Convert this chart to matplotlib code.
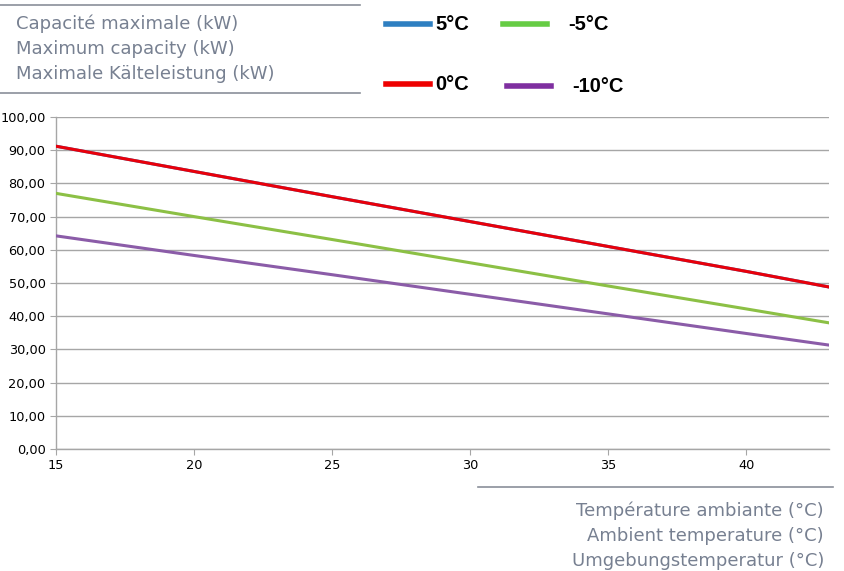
import numpy as np
import matplotlib
matplotlib.use('Agg')
import matplotlib.pyplot as plt
from matplotlib.lines import Line2D

# Ambient temperature (°C) and capacity (kW) per water outlet temperature
temps = [15, 20, 25, 30, 35, 40, 43]
cap_5 = [91.2, 83.6, 76.0, 68.5, 61.0, 53.5, 48.8]
cap_0 = [91.2, 83.6, 76.0, 68.5, 61.0, 53.5, 48.8]
cap_m5 = [77.0, 70.0, 63.1, 56.1, 49.1, 42.2, 38.0]
cap_m10 = [64.2, 58.3, 52.5, 46.6, 40.7, 34.8, 31.3]

y_ticks = np.arange(0, 101, 10)
x_ticks = [15, 20, 25, 30, 35, 40]

W, H = 844, 571
fig = plt.figure(figsize=(W / 100, H / 100), dpi=100)
ax = fig.add_axes([56 / W, 1 - 449 / H, (829 - 56) / W, (449 - 117) / H])

ax.plot(temps, cap_5, color='#2e7fc1', lw=2.2, zorder=3)
ax.plot(temps, cap_0, color='#e8000b', lw=2.2, zorder=4)
ax.plot(temps, cap_m5, color='#8cc045', lw=2.2, zorder=3)
ax.plot(temps, cap_m10, color='#8b5ca8', lw=2.2, zorder=3)

ax.set_xlim(15, 43)
ax.set_ylim(0, 100)
ax.set_yticks(y_ticks)
ax.set_yticklabels(['%d,00' % v for v in y_ticks])
ax.set_xticks(x_ticks)
ax.grid(axis='y', color='#a6a6a6', lw=1)
ax.set_axisbelow(True)
for s in ['top', 'right']:
    ax.spines[s].set_visible(False)
for s in ['left', 'bottom']:
    ax.spines[s].set_color('#a6a6a6')
    ax.spines[s].set_linewidth(1)
ax.tick_params(colors='#a6a6a6', labelcolor='black', labelsize=9.3, length=4)

# header text on the upper left
txt_col = '#778091'
fig.add_artist(Line2D([0, 360 / W], [1 - 5 / H] * 2, color='#8a8f99', lw=1.2))
fig.add_artist(Line2D([0, 360 / W], [1 - 93 / H] * 2, color='#8a8f99', lw=1.2))
for i, t in enumerate(['Capacité maximale (kW)', 'Maximum capacity (kW)',
                       'Maximale Kälteleistung (kW)']):
    fig.text(16 / W, 1 - (24 + 25 * i) / H, t, color=txt_col, fontsize=13,
             va='center', ha='left')

# legend built by hand
leg = [('5°C', '#2e7fc1', 386, 430, 435, 24),
       ('-5°C', '#66cc44', 503, 547, 568, 24),
       ('0°C', '#ee0000', 386, 430, 435, 84),
       ('-10°C', '#7f2fa0', 507, 551, 572, 86)]
for lab, col, x0, x1, xt, yy in leg:
    fig.add_artist(Line2D([x0 / W, x1 / W], [1 - yy / H] * 2, color=col, lw=4))
    fig.text(xt / W, 1 - yy / H, lab, fontsize=14.5, fontweight='bold',
             family='Liberation Sans', va='center', ha='left')

# x axis title on the lower right
fig.add_artist(Line2D([478 / W, 833 / W], [1 - 487 / H] * 2, color='#8a8f99', lw=1.2))
for i, t in enumerate(['Température ambiante (°C)', 'Ambient temperature (°C)',
                       'Umgebungstemperatur (°C)']):
    fig.text(824 / W, 1 - (511 + 25 * i) / H, t, color=txt_col, fontsize=13,
             va='center', ha='right')

fig.savefig('out.png', dpi=100)
